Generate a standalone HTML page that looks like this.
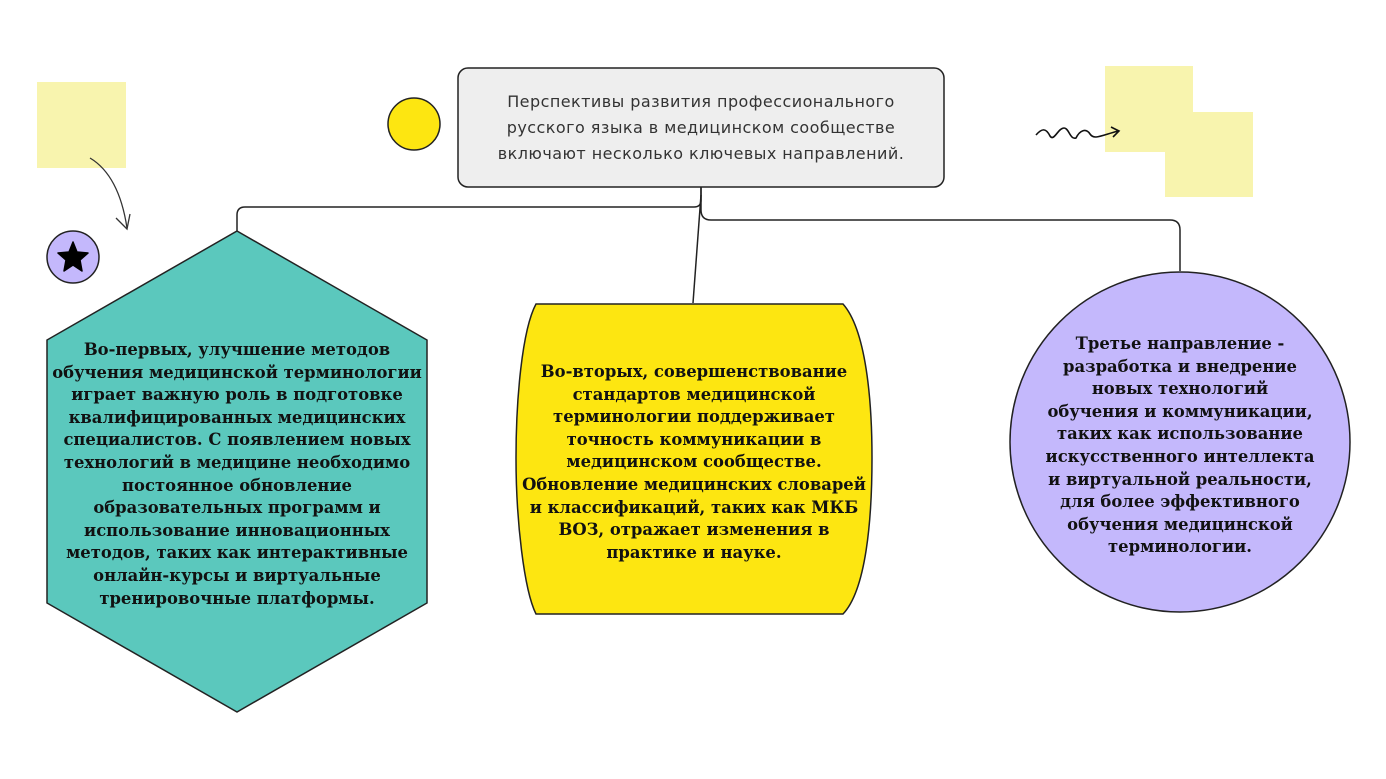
<!DOCTYPE html>
<html><head><meta charset="utf-8"><style>
html,body{margin:0;padding:0;background:#fff;}
#c{position:relative;width:1386px;height:779px;overflow:hidden;background:#fff;}
svg{position:absolute;left:0;top:0;}
.t{position:absolute;text-align:center;font-family:"DejaVu Serif",serif;font-weight:bold;font-size:16.4px;line-height:22.6px;color:#111;white-space:nowrap;}
.h{position:absolute;text-align:center;font-family:"DejaVu Sans",sans-serif;font-size:16px;letter-spacing:0.45px;line-height:26px;color:#333;white-space:nowrap;}
</style></head><body><div id="c">
<svg width="1386" height="779" viewBox="0 0 1386 779">
<rect x="37" y="82" width="89" height="86" fill="#f8f4ae"/>
<rect x="1105" y="66" width="88" height="86" fill="#f8f4ae"/>
<rect x="1165" y="112" width="88" height="85" fill="#f8f4ae"/>
<path d="M90 158 C110 170 122 195 127 228" fill="none" stroke="#333" stroke-width="1.3"/>
<path d="M116 218 L127 229 L130 214" fill="none" stroke="#333" stroke-width="1.3"/>
<path d="M1036 135 C1042 128 1046 128 1050 136 C1054 142 1058 128 1064 128 C1069 128 1070 140 1076 138 C1080 130 1086 128 1090 134 C1094 140 1100 136 1118 131 M1111 127 L1119 131 L1113 137" fill="none" stroke="#111" stroke-width="1.6"/>
<circle cx="414" cy="124" r="26" fill="#fde611" stroke="#222" stroke-width="1.5"/>
<circle cx="73" cy="257" r="26" fill="#c4b8fc" stroke="#222" stroke-width="1.5"/>
<polygon points="73,242 77,252 88,253 80,260 82,271 73,265 64,271 66,260 58,253 69,252" fill="#000" stroke="#000" stroke-width="1.5" stroke-linejoin="round"/>
<path d="M701 187 V200 Q701 207 694 207 H245 Q237 207 237 215 V231" fill="none" stroke="#222" stroke-width="1.5"/>
<path d="M701 187 V210 Q701 220 711 220 H1170 Q1180 220 1180 230 V271" fill="none" stroke="#222" stroke-width="1.5"/>
<path d="M701 195 L693 303" fill="none" stroke="#222" stroke-width="1.5"/>
<rect x="458" y="68" width="486" height="119" rx="10" fill="#eeeeee" stroke="#222" stroke-width="1.5"/>
<polygon points="237,231 427,340 427,603 237,712 47,603 47,340" fill="#5bc8bd" stroke="#222" stroke-width="1.5"/>
<path d="M536 304 H843 C866 330 872 400 872 458 C872 520 866 590 843 614 H536 C524 590 516 520 516 458 C516 400 522 330 536 304 Z" fill="#fde611" stroke="#222" stroke-width="1.5"/>
<circle cx="1180" cy="442" r="170" fill="#c4b8fc" stroke="#222" stroke-width="1.5"/>
</svg>
<div class="h" style="left:358px;top:89px;width:686px;">Перспективы развития профессионального<br>русского языка в медицинском сообществе<br>включают несколько ключевых направлений.</div>
<div class="t" style="left:-63px;top:339px;width:600px;">Во-первых, улучшение методов<br>обучения медицинской терминологии<br>играет важную роль в подготовке<br>квалифицированных медицинских<br>специалистов. С появлением новых<br>технологий в медицине необходимо<br>постоянное обновление<br>образовательных программ и<br>использование инновационных<br>методов, таких как интерактивные<br>онлайн-курсы и виртуальные<br>тренировочные платформы.</div>
<div class="t" style="left:394px;top:361px;width:600px;">Во-вторых, совершенствование<br>стандартов медицинской<br>терминологии поддерживает<br>точность коммуникации в<br>медицинском сообществе.<br>Обновление медицинских словарей<br>и классификаций, таких как МКБ<br>ВОЗ, отражает изменения в<br>практике и науке.</div>
<div class="t" style="left:880px;top:333px;width:600px;">Третье направление -<br>разработка и внедрение<br>новых технологий<br>обучения и коммуникации,<br>таких как использование<br>искусственного интеллекта<br>и виртуальной реальности,<br>для более эффективного<br>обучения медицинской<br>терминологии.</div>
</div></body></html>
